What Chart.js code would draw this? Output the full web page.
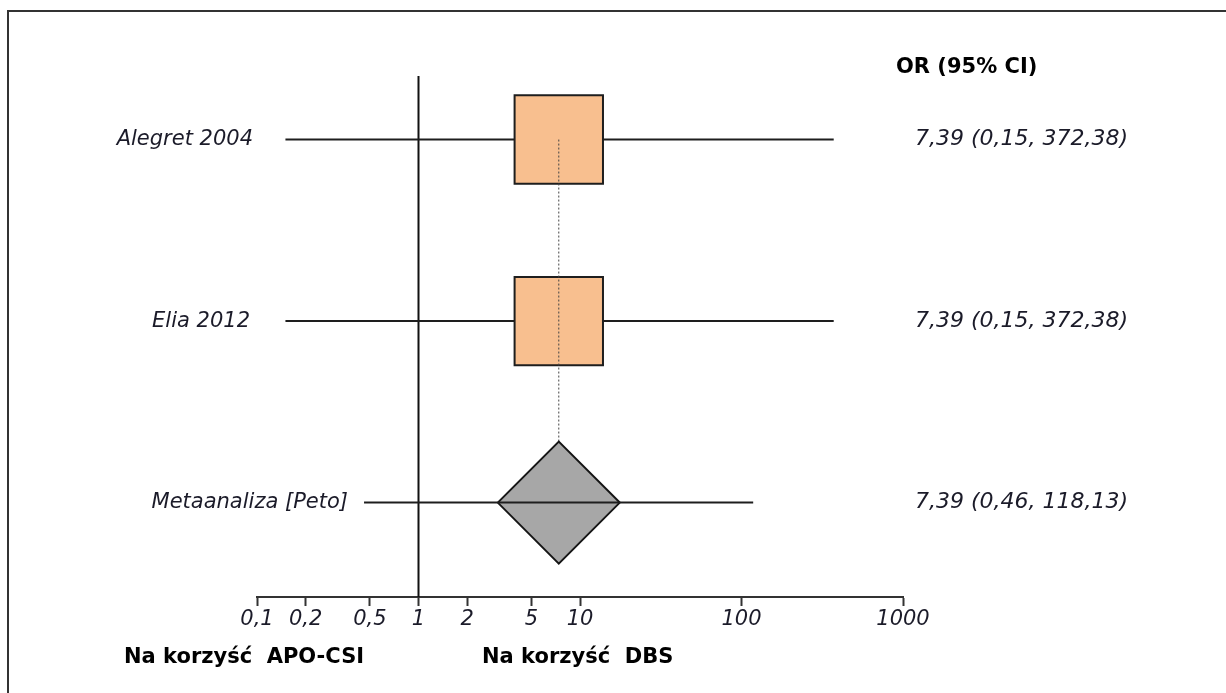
<!DOCTYPE html>
<html>
<head>
<meta charset="utf-8">
<script src="https://cdn.jsdelivr.net/npm/chart.js@4.4.1/dist/chart.umd.min.js"></script>
<style>
  html, body { margin: 0; padding: 0; background: #fff; }
  canvas { display: block; }
</style>
</head>
<body>
<canvas id="forest" width="1226" height="693"></canvas>
<script>
// forest plot data (odds ratios, 95% CI)
const studies = ['Alegret 2004', 'Elia 2012', 'Metaanaliza [Peto]'];
const rows = [3, 2, 1];
const oddsRatios = [7.39, 7.39, 7.39];
const ciLower = [0.15, 0.15, 0.46];
const ciUpper = [372.38, 372.38, 118.13];
const tickValues = [0.1, 0.2, 0.5, 1, 2, 5, 10, 100, 1000];
const favourLabels = ['Na korzyść  APO-CSI', 'Na korzyść  DBS'];

const Y_MIN = 0.48, Y_MAX = 3.35;
const pooled = 2; // index of the meta-analysis row

const fmt = v => v.toFixed(2).replace('.', ',');
const ciText = i => fmt(oddsRatios[i]) + ' (' + fmt(ciLower[i]) + ', ' + fmt(ciUpper[i]) + ')';

const lineDs = (pts, extra) => Object.assign({
  data: pts, showLine: true, pointRadius: 0, borderColor: '#1e1e1e', borderWidth: 2
}, extra);

const datasets = [
  // pooled CI line sits on top of the diamond
  lineDs([{x: ciLower[pooled], y: rows[pooled]}, {x: ciUpper[pooled], y: rows[pooled]}], {order: 0}),
  {
    data: [{x: oddsRatios[pooled], y: rows[pooled]}],
    pointStyle: 'rectRot', pointRadius: 61,
    backgroundColor: '#a7a7a7', borderColor: '#151515', borderWidth: 2, order: 1
  },
  // dotted guide from the first study down to the pooled estimate
  lineDs([{x: oddsRatios[pooled], y: rows[0]}, {x: oddsRatios[pooled], y: rows[pooled]}],
         {borderColor: '#444', borderWidth: 1, borderDash: [2, 2], order: 2}),
  {
    data: [0, 1].map(i => ({x: oddsRatios[i], y: rows[i]})),
    pointStyle: 'rect', pointRadius: 62.5,
    backgroundColor: '#f8bf8f', borderColor: '#1e1e1e', borderWidth: 2, order: 3
  },
  ...[0, 1].map(i => lineDs([{x: ciLower[i], y: rows[i]}, {x: ciUpper[i], y: rows[i]}], {order: 4})),
  // line of no effect
  lineDs([{x: 1, y: Y_MIN}, {x: 1, y: Y_MAX}], {borderColor: '#111', order: 5})
];

const forestText = {
  id: 'forestText',
  afterDraw(chart) {
    const {ctx, scales: {y}} = chart;
    ctx.save();
    ctx.strokeStyle = '#333';
    ctx.lineWidth = 2;
    ctx.beginPath();
    ctx.moveTo(8, 700);
    ctx.lineTo(8, 11);
    ctx.lineTo(1230, 11);
    ctx.stroke();

    ctx.fillStyle = '#1b1b29';
    ctx.textBaseline = 'middle';
    const nameRight = [253, 250, 348];
    studies.forEach((s, i) => {
      const py = y.getPixelForValue(rows[i]);
      ctx.textAlign = 'right';
      ctx.font = 'italic 21px "DejaVu Sans"';
      ctx.fillText(s, nameRight[i], py);
      ctx.font = 'italic 22px "DejaVu Sans"';
      ctx.fillText(ciText(i), 1128, py);
    });

    ctx.fillStyle = '#000';
    ctx.textAlign = 'left';
    ctx.font = 'bold 21px "DejaVu Sans"';
    ctx.fillText('OR (95% CI)', 896, 68);
    ctx.fillText(favourLabels[0], 124, 658);
    ctx.fillText(favourLabels[1], 482, 658);
    ctx.restore();
  }
};

new Chart(document.getElementById('forest'), {
  type: 'scatter',
  data: {datasets: datasets},
  options: {
    responsive: false,
    animation: false,
    events: [],
    layout: {padding: {left: 257, right: 323, top: 76, bottom: 56}},
    plugins: {legend: {display: false}, tooltip: {enabled: false}},
    scales: {
      x: {
        type: 'logarithmic',
        min: 0.1,
        max: 1000,
        afterBuildTicks: s => { s.ticks = tickValues.map(v => ({value: v})); },
        afterFit: s => { s.height = 40; },
        grid: {drawOnChartArea: false, tickLength: 9, tickWidth: 2, tickColor: '#333'},
        border: {display: true, color: '#333', width: 2},
        ticks: {
          autoSkip: false, maxRotation: 0, padding: 1, color: '#1b1b29',
          font: {family: 'DejaVu Sans', size: 21, style: 'italic'},
          callback: v => String(v).replace('.', ',')
        }
      },
      y: {type: 'linear', display: false, min: Y_MIN, max: Y_MAX}
    }
  },
  plugins: [forestText]
});
</script>
</body>
</html>
